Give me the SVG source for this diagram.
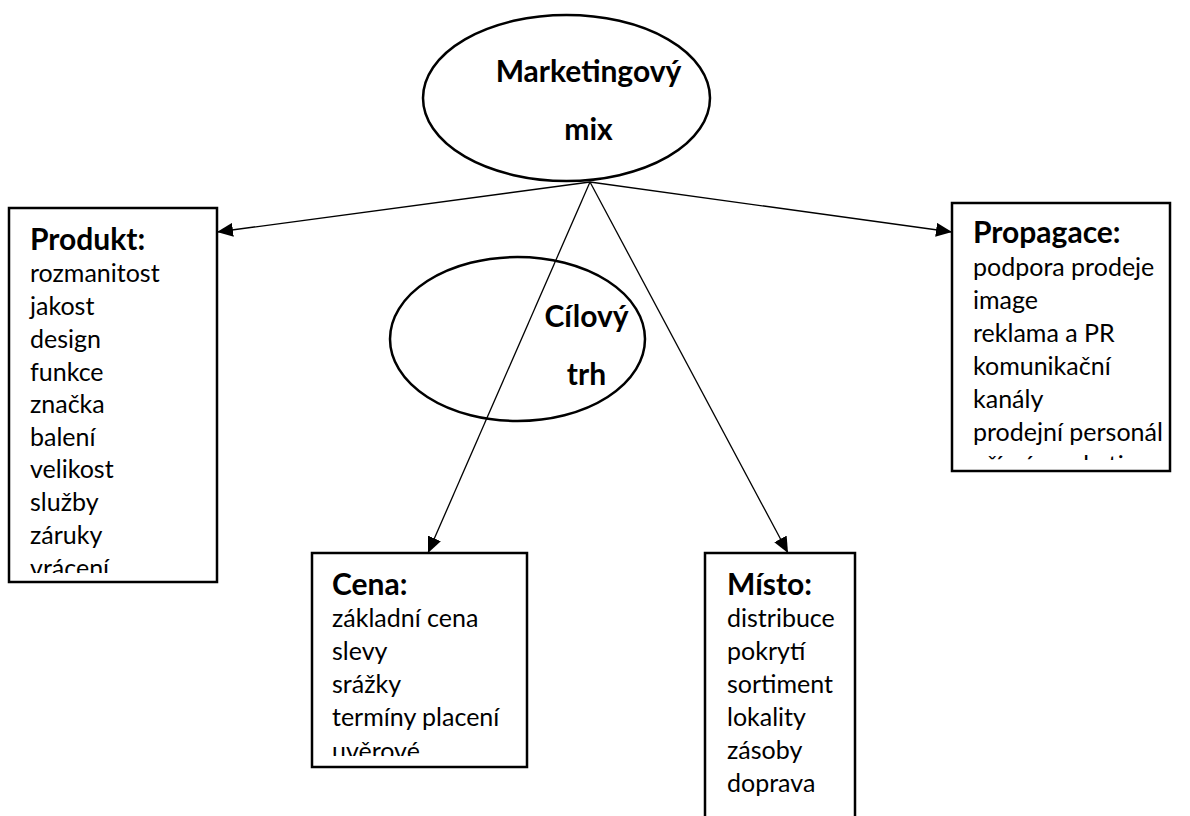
<svg xmlns="http://www.w3.org/2000/svg" width="1190" height="816" viewBox="0 0 1190 816">
<style>
.shape{fill:#fff;stroke:#000;stroke-width:2.5}
.ell{fill:none;stroke:#000;stroke-width:2.5}
.h{font-family:Lato,"Liberation Sans",sans-serif;font-weight:bold;font-size:30px;fill:#000}
.b{font-family:Lato,"Liberation Sans",sans-serif;font-size:25px;fill:#000}
.c{text-anchor:middle}
.conn{stroke:#000;stroke-width:1.3;fill:none;marker-end:url(#arr)}
</style>
<defs>
<marker id="arr" markerUnits="userSpaceOnUse" markerWidth="18" markerHeight="14" refX="16" refY="7" orient="auto">
<path d="M0,0 L16,7 L0,14 Z" fill="#000"/>
</marker>
<clipPath id="cpP"><rect x="10" y="209" width="206" height="364"/></clipPath>
<clipPath id="cpR"><rect x="953" y="204" width="216" height="256"/></clipPath>
<clipPath id="cpC"><rect x="313" y="554" width="213" height="202"/></clipPath>
<clipPath id="cpM"><rect x="706" y="554" width="148" height="262"/></clipPath>
</defs>
<rect width="1190" height="816" fill="#fff"/>
<g id="marketingovy-mix">
<ellipse class="ell" cx="566.5" cy="98" rx="143.5" ry="83"/>
<text class="h c" x="588.5" y="82">Marketingový</text>
<text class="h c" x="588.5" y="140">mix</text>
</g>
<g id="cilovy-trh">
<ellipse class="ell" cx="517.5" cy="339" rx="127.5" ry="82"/>
<text class="h c" x="586.5" y="327">Cílový</text>
<text class="h c" x="586.5" y="385">trh</text>
</g>
<g id="produkt">
<rect class="shape" x="9" y="208" width="208" height="374"/>
<g clip-path="url(#cpP)">
<text class="h" x="30" y="250">Produkt:</text>
<text class="b" x="30" y="282">rozmanitost</text>
<text class="b" x="30" y="315">jakost</text>
<text class="b" x="30" y="348">design</text>
<text class="b" x="30" y="381">funkce</text>
<text class="b" x="30" y="413">značka</text>
<text class="b" x="30" y="446">balení</text>
<text class="b" x="30" y="478">velikost</text>
<text class="b" x="30" y="511">služby</text>
<text class="b" x="30" y="544">záruky</text>
<text class="b" x="30" y="577">vrácení</text>
</g>
</g>
<g id="propagace">
<rect class="shape" x="952" y="203" width="218" height="268"/>
<g clip-path="url(#cpR)">
<text class="h" x="973" y="243">Propagace:</text>
<text class="b" x="973" y="276">podpora prodeje</text>
<text class="b" x="973" y="309">image</text>
<text class="b" x="973" y="342">reklama a PR</text>
<text class="b" x="973" y="375">komunikační</text>
<text class="b" x="973" y="408">kanály</text>
<text class="b" x="973" y="441">prodejní personál</text>
<text class="b" x="973" y="474">přímý marketing</text>
</g>
</g>
<g id="cena">
<rect class="shape" x="312" y="553" width="215" height="214"/>
<g clip-path="url(#cpC)">
<text class="h" x="332" y="595">Cena:</text>
<text class="b" x="332" y="627">základní cena</text>
<text class="b" x="332" y="660">slevy</text>
<text class="b" x="332" y="693">srážky</text>
<text class="b" x="332" y="726">termíny placení</text>
<text class="b" x="332" y="760">uvěrové</text>
</g>
</g>
<g id="misto">
<rect class="shape" x="705" y="553" width="150" height="280"/>
<g clip-path="url(#cpM)">
<text class="h" x="727" y="595">Místo:</text>
<text class="b" x="727" y="627">distribuce</text>
<text class="b" x="727" y="660">pokrytí</text>
<text class="b" x="727" y="693">sortiment</text>
<text class="b" x="727" y="726">lokality</text>
<text class="b" x="727" y="759">zásoby</text>
<text class="b" x="727" y="792">doprava</text>
</g>
</g>
<g id="connectors">
<line class="conn" x1="590" y1="182" x2="217" y2="232"/>
<line class="conn" x1="590" y1="182" x2="952" y2="232"/>
<line class="conn" x1="590" y1="182" x2="428" y2="553"/>
<line class="conn" x1="590" y1="182" x2="788" y2="553"/>
</g>
</svg>
